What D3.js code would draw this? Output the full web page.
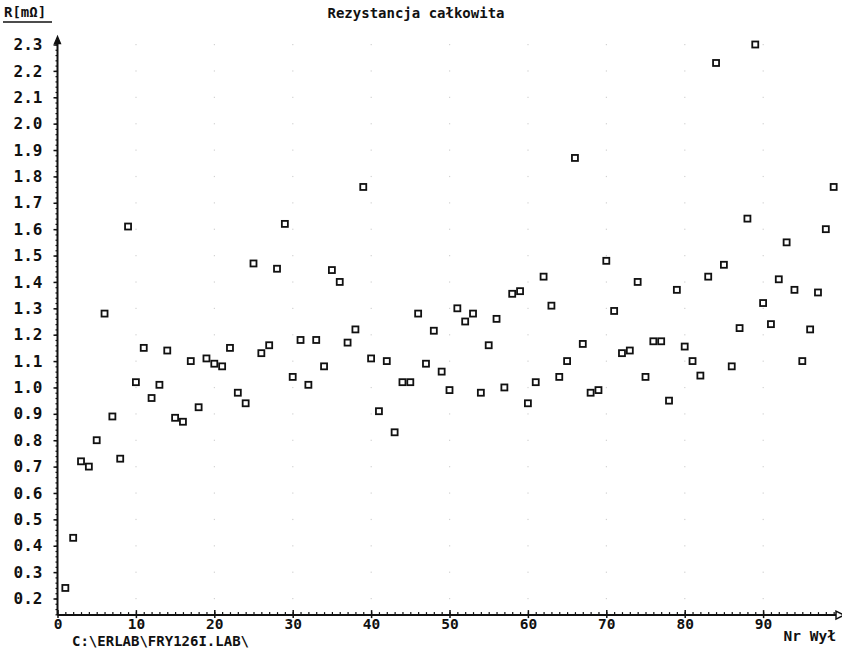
<!DOCTYPE html>
<html>
<head>
<meta charset="utf-8">
<script src="https://cdn.jsdelivr.net/npm/d3@7"></script>
<style>
  body { margin: 0; background: #fff; }
  text { font-family: "DejaVu Sans Mono", "Liberation Mono", monospace; font-weight: bold; fill: #111; }
</style>
</head>
<body>
<div id="chart"></div>
<script>
// Measurement numbers (Nr Wył) and total resistance R [mOhm]
const measurementNo = d3.range(1, 100);
const resistance = [
  0.24, 0.43, 0.72, 0.70, 0.80, 1.28, 0.89, 0.73, 1.61, 1.02,
  1.15, 0.96, 1.01, 1.14, 0.885, 0.87, 1.10, 0.925, 1.11, 1.09,
  1.08, 1.15, 0.98, 0.94, 1.47, 1.13, 1.16, 1.45, 1.62, 1.04,
  1.18, 1.01, 1.18, 1.08, 1.445, 1.40, 1.17, 1.22, 1.76, 1.11,
  0.91, 1.10, 0.83, 1.02, 1.02, 1.28, 1.09, 1.215, 1.06, 0.99,
  1.30, 1.25, 1.28, 0.98, 1.16, 1.26, 1.00, 1.355, 1.365, 0.94,
  1.02, 1.42, 1.31, 1.04, 1.10, 1.87, 1.165, 0.98, 0.99, 1.48,
  1.29, 1.13, 1.14, 1.40, 1.04, 1.175, 1.175, 0.95, 1.37, 1.155,
  1.10, 1.045, 1.42, 2.23, 1.465, 1.08, 1.225, 1.64, 2.30, 1.32,
  1.24, 1.41, 1.55, 1.37, 1.10, 1.22, 1.36, 1.60, 1.76
];
const xTicks = d3.range(0, 100, 10);
const yTicks = d3.range(2, 24).map(d => d / 10);

const title = "Rezystancja całkowita";
const yLabel = "R[mΩ]";
const xLabel = "Nr Wył";
const fileLabel = "C:\\ERLAB\\FRY126I.LAB\\";

const width = 842, height = 650;

const svg = d3.select("#chart").append("svg")
  .attr("width", width)
  .attr("height", height);

const x = d3.scaleLinear().domain([0, 100]).range([57.5, 841.5]);
const y = d3.scaleLinear().domain([0.2, 2.3]).range([598.5, 44.5]);

const yBottom = 0.137; // where the x axis crosses
const axisY = y(yBottom);

// faint dot grid
const grid = svg.append("g").attr("class", "grid");
xTicks.slice(1).forEach(xv => {
  yTicks.forEach(yv => {
    grid.append("rect")
      .attr("x", x(xv) - 0.5).attr("y", y(yv) - 0.5)
      .attr("width", 1.2).attr("height", 1.2)
      .attr("fill", "#d2d2d2");
  });
});

// y axis: minor ticks
svg.append("g")
  .attr("transform", `translate(${x(0)},0)`)
  .call(d3.axisLeft(y)
    .tickValues(d3.range(7, 116).map(d => d / 50))
    .tickSize(2).tickFormat(""))
  .call(g => g.select(".domain").remove())
  .selectAll("line").attr("stroke", "#111").attr("stroke-width", 1.2);

// y axis: major ticks and labels
svg.append("g")
  .attr("transform", `translate(${x(0)},0)`)
  .call(d3.axisLeft(y).tickValues(yTicks).tickSize(4).tickPadding(11)
    .tickFormat(d3.format(".1f")))
  .call(g => g.select(".domain").remove())
  .call(g => g.selectAll("line").attr("stroke", "#111").attr("stroke-width", 1.5))
  .call(g => g.selectAll("text").style("font-size", "16px").attr("fill", "#111"));

// y axis line + arrow
svg.append("line")
  .attr("x1", x(0)).attr("x2", x(0))
  .attr("y1", axisY).attr("y2", y(2.3) - 4)
  .attr("stroke", "#111").attr("stroke-width", 2);
svg.append("path")
  .attr("d", `M${x(0)},${y(2.3) - 8} l-3,7 l6,0 z`)
  .attr("fill", "#111").attr("stroke", "#111").attr("stroke-width", 1.3);

// x axis: minor ticks (upwards)
svg.append("g")
  .attr("transform", `translate(0,${axisY})`)
  .call(d3.axisBottom(x).tickValues(d3.range(1, 100)).tickSize(-3).tickFormat(""))
  .call(g => g.select(".domain").remove())
  .selectAll("line").attr("stroke", "#111").attr("stroke-width", 1.2);

// x axis: major ticks and labels
svg.append("g")
  .attr("transform", `translate(0,${axisY})`)
  .call(d3.axisBottom(x).tickValues(xTicks).tickSize(3).tickPadding(1))
  .call(g => g.select(".domain").remove())
  .call(g => g.selectAll("line").attr("stroke", "#111").attr("stroke-width", 1.5).attr("y1", -5))
  .call(g => g.selectAll("text").style("font-size", "14.5px").attr("fill", "#111"));

// x axis line + open arrow
svg.append("line")
  .attr("x1", x(0)).attr("x2", x(99.3))
  .attr("y1", axisY).attr("y2", axisY)
  .attr("stroke", "#111").attr("stroke-width", 2);
svg.append("path")
  .attr("d", `M${x(99.3)},${axisY - 4} l8,4 l-8,4 z`)
  .attr("fill", "#fff").attr("stroke", "#111").attr("stroke-width", 1.5);

// data markers: small open squares
svg.append("g")
  .selectAll("rect")
  .data(measurementNo.map((n, i) => ({ n, r: resistance[i] })))
  .join("rect")
  .attr("x", d => x(d.n) - 3)
  .attr("y", d => y(d.r) - 3)
  .attr("width", 6).attr("height", 6)
  .attr("fill", "#fff")
  .attr("stroke", "#111")
  .attr("stroke-width", 1.8);

// title
svg.append("text")
  .attr("x", 416).attr("y", 18)
  .attr("text-anchor", "middle")
  .style("font-size", "14px")
  .text(title);

// y label, underlined
svg.append("text")
  .attr("x", 4).attr("y", 17)
  .style("font-size", "14px")
  .text(yLabel);
svg.append("line")
  .attr("x1", 3).attr("x2", 52)
  .attr("y1", 22).attr("y2", 22)
  .attr("stroke", "#111").attr("stroke-width", 1.5);

// file path under the axis
svg.append("text")
  .attr("x", 72).attr("y", 646)
  .style("font-size", "14px")
  .text(fileLabel);

// x label
svg.append("text")
  .attr("x", 836).attr("y", 641)
  .attr("text-anchor", "end")
  .style("font-size", "14.5px")
  .text(xLabel);
</script>
</body>
</html>
